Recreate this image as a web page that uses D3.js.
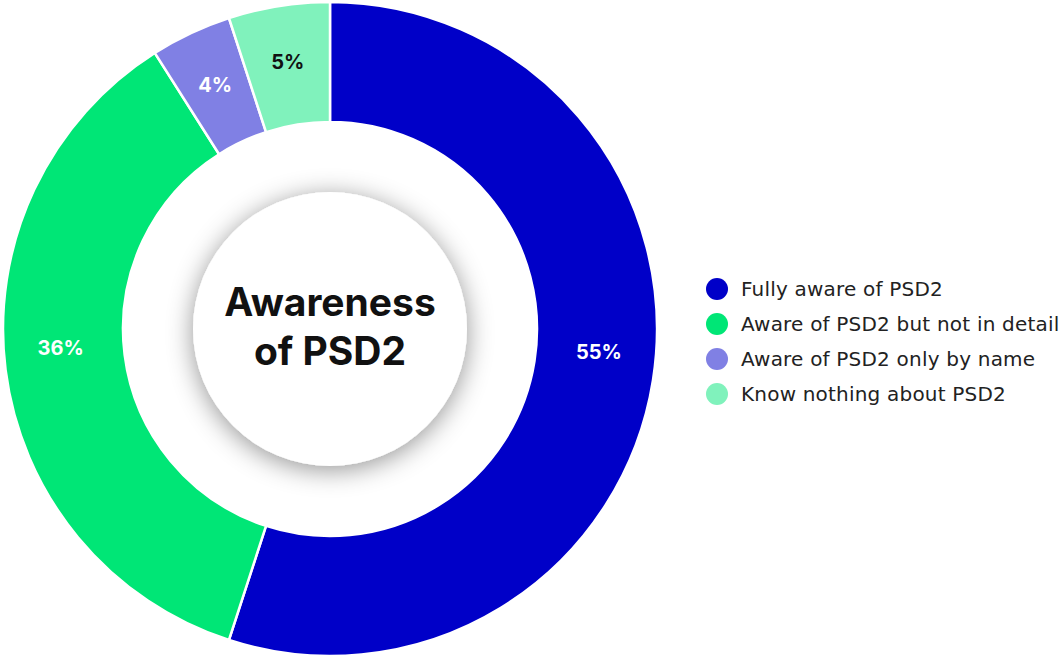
<!DOCTYPE html>
<html>
<head>
<meta charset="utf-8">
<script src="https://cdn.jsdelivr.net/npm/d3@7"></script>
<style>
  html, body { margin: 0; padding: 0; background: #ffffff; }
  svg { display: block; }
</style>
</head>
<body>
<svg id="chart" width="1061" height="656"></svg>
<script>
// Survey answers and their shares (%)
const categories = [
  "Fully aware of PSD2",
  "Aware of PSD2 but not in detail",
  "Aware of PSD2 only by name",
  "Know nothing about PSD2"
];
const shares = [55, 36, 4, 5];
const colors = ["#0000c8", "#00e676", "#8080e4", "#80f2bc"];
const labelColors = ["#ffffff", "#ffffff", "#ffffff", "#111111"];
const titleLines = ["Awareness", "of PSD2"];

const svg = d3.select("#chart");
const cx = 330, cy = 329;
const outerR = 327, innerR = 207, holeR = 137;

const data = categories.map((c, i) => ({ name: c, value: shares[i], color: colors[i], labelColor: labelColors[i] }));

const pie = d3.pie().value(d => d.value).sort(null);
const arcs = pie(data);
const arc = d3.arc().innerRadius(innerR).outerRadius(outerR);

const defs = svg.append("defs");
const f = defs.append("filter").attr("id", "softShadow")
  .attr("x", "-40%").attr("y", "-40%").attr("width", "180%").attr("height", "180%");
f.append("feDropShadow").attr("dx", 0).attr("dy", 4).attr("stdDeviation", 13)
  .attr("flood-color", "#000").attr("flood-opacity", 0.42);

const g = svg.append("g").attr("transform", `translate(${cx},${cy})`);

g.selectAll("path.slice").data(arcs).join("path")
  .attr("class", "slice")
  .attr("d", arc)
  .attr("fill", d => d.data.color)
  .attr("stroke", "#ffffff")
  .attr("stroke-width", 2.5);

// Percentage labels: small slices at their mid-angle, large slices eased toward the horizontal axis
const labelR = 270;
g.selectAll("text.pct").data(arcs).join("text")
  .attr("class", "pct")
  .each(function (d) {
    let a = (d.startAngle + d.endAngle) / 2;
    if (d.endAngle - d.startAngle > Math.PI / 2) {
      const h = a < Math.PI ? Math.PI / 2 : 3 * Math.PI / 2;
      a = a + (h - a) * 0.45;
    }
    d3.select(this)
      .attr("x", labelR * Math.sin(a))
      .attr("y", -labelR * Math.cos(a));
  })
  .attr("text-anchor", "middle")
  .attr("dominant-baseline", "central")
  .attr("font-family", "Inter, 'Noto Sans', sans-serif")
  .attr("font-weight", 700)
  .attr("font-size", 20)
  .attr("fill", d => d.data.labelColor)
  .text(d => d.data.value + "%");

// Center disc with soft shadow
g.append("circle").attr("r", holeR).attr("fill", "#ffffff").attr("filter", "url(#softShadow)");

g.selectAll("text.title").data(titleLines).join("text")
  .attr("class", "title")
  .attr("x", 0)
  .attr("y", (d, i) => -13 + i * 49)
  .attr("text-anchor", "middle")
  .attr("font-family", "Inter, 'Noto Sans', sans-serif")
  .attr("font-weight", 700)
  .attr("font-size", 39)
  .attr("fill", "#111111")
  .text(d => d);

// Legend
const legend = svg.append("g").attr("transform", "translate(717,289)");
const rows = legend.selectAll("g").data(data).join("g")
  .attr("transform", (d, i) => `translate(0,${i * 35})`);
rows.append("circle").attr("r", 11).attr("fill", d => d.color);
rows.append("text")
  .attr("x", 24)
  .attr("dominant-baseline", "central")
  .attr("font-family", "'DejaVu Sans', sans-serif")
  .attr("font-size", 20)
  .attr("letter-spacing", 0.2)
  .attr("fill", "#222222")
  .text(d => d.name);
</script>
</body>
</html>
